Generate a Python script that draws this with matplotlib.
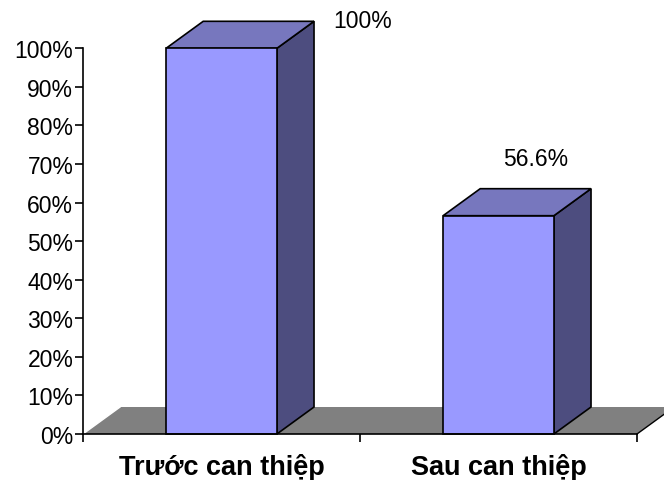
import matplotlib
matplotlib.use("Agg")
import matplotlib.pyplot as plt
from matplotlib.patches import Polygon

plt.rcParams['font.family'] = ['Liberation Sans', 'DejaVu Sans']

categories = ["Trước can thiệp", "Sau can thiệp"]
values = [100, 56.6]
y_ticks = [0, 10, 20, 30, 40, 50, 60, 70, 80, 90, 100]
y_tick_labels = [f"{t}%" for t in y_ticks]

FRONT = "#9999FF"
TOP = "#7777BE"
SIDE = "#4D4D7F"
FLOOR = "#808080"

bar_width = 0.4        # share of a category slot
depth_x = 0.134        # depth offset in category units
depth_y = 7.0          # depth offset in percent units
label_offsets = [(0.375, 0.3), (0.0, 7.8)]  # (dx, dy) beyond the back-top centre

fig = plt.figure(figsize=(6.64, 4.81), dpi=100)
ax = fig.add_axes([83 / 664, 1 - 435 / 481, (637 - 83) / 664, (435 - 49.3) / 481])
ax.set_xlim(0, len(categories))
ax.set_ylim(0, 100)

# floor
n = len(categories)
floor = Polygon([(0, 0), (n, 0), (n + depth_x, depth_y), (depth_x, depth_y)],
                closed=True, facecolor=FLOOR, edgecolor="none", clip_on=False, zorder=1)
ax.add_patch(floor)
ax.plot([0, depth_x], [0, depth_y], color="white", lw=1.0, clip_on=False, zorder=1.5)
ax.plot([n, n + depth_x], [0, depth_y], color="black", lw=1.0, clip_on=False, zorder=1.5)

for i, v in enumerate(values):
    c = i + 0.5
    x0, x1 = c - bar_width / 2, c + bar_width / 2
    front = Polygon([(x0, 0), (x1, 0), (x1, v), (x0, v)], closed=True,
                    facecolor=FRONT, edgecolor="black", lw=1.2, clip_on=False, zorder=3)
    top = Polygon([(x0, v), (x1, v), (x1 + depth_x, v + depth_y), (x0 + depth_x, v + depth_y)],
                  closed=True, facecolor=TOP, edgecolor="black", lw=1.2, clip_on=False, zorder=3)
    side = Polygon([(x1, 0), (x1 + depth_x, depth_y), (x1 + depth_x, v + depth_y), (x1, v)],
                   closed=True, facecolor=SIDE, edgecolor="black", lw=1.2, clip_on=False, zorder=3)
    for p in (side, top, front):
        ax.add_patch(p)
    ox, oy = label_offsets[i]
    ax.text(c + depth_x + ox, v + depth_y + oy, f"{v:g}%", ha="center", va="center",
            fontsize=16.5, clip_on=False, zorder=4)

ax.spines["top"].set_visible(False)
ax.spines["right"].set_visible(False)
for s in ("left", "bottom"):
    ax.spines[s].set_linewidth(1.2)
    ax.spines[s].set_zorder(5)

ax.set_yticks(y_ticks)
ax.set_yticklabels(y_tick_labels, fontsize=16.5)
ax.tick_params(axis="y", length=6, width=1.2, pad=1)

ax.set_xticks(range(n + 1))
ax.set_xticklabels([""] * (n + 1))
ax.tick_params(axis="x", which="major", length=6, width=1.2, direction="out")
ax.set_xticks([i + 0.5 for i in range(n)], minor=True)
ax.set_xticklabels(categories, minor=True, fontsize=19.5, fontweight="bold")
ax.tick_params(axis="x", which="minor", length=0, pad=14)

fig.savefig("out.png", dpi=100)
